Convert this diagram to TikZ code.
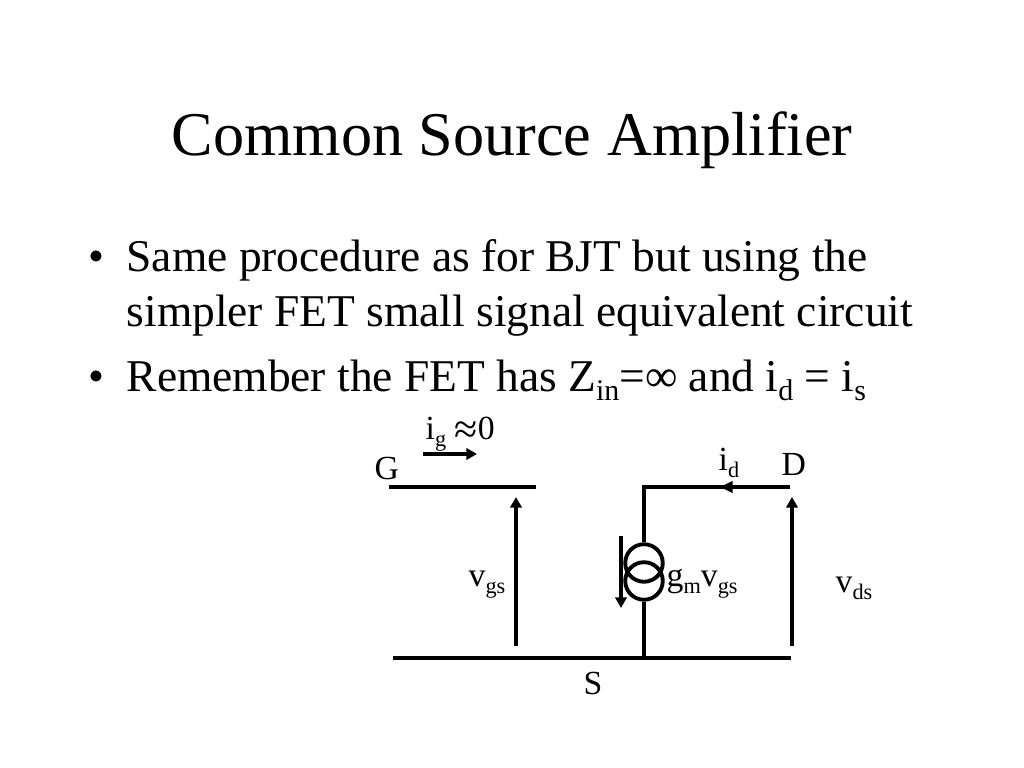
\documentclass[tikz,border=0pt]{standalone}
\usepackage{fontspec}
\usepackage{graphicx}
\setmainfont{Liberation Serif}
\usetikzlibrary{arrows.meta}
\newcommand{\lowtext}[1]{\raisebox{-0.42ex}{\scalebox{0.66}{#1}}}
\tikzset{
  titletext/.style = {inner sep=0pt, anchor=base, font=\fontsize{17.7}{20}\selectfont},
  bodytext/.style = {inner sep=0pt, anchor=base west, font=\fontsize{12.93}{15}\selectfont},
  lbl/.style = {inner sep=0pt, anchor=base west, font=\fontsize{9.6}{11}\selectfont},
  wire/.style = {line width=1.25pt},
  sense/.style = {line width=0.88pt, -{Triangle[length=3pt,width=3.2pt]}},
  source/.style = {draw, circle, line width=1.1pt, inner sep=0pt, minimum size=1.03pt*36.5*0.284}
}
\begin{document}
\begin{tikzpicture}
\useasboundingbox (0,0) rectangle (10.24,7.68);
\node[titletext] (title) at (5.12,6.12) {Common Source Amplifier};
\node[bodytext] (dotone) at (0.88,4.96) {\textbullet};
\node[bodytext] (lineone) at (1.26,4.96) {Same procedure as for BJT but using the};
\node[bodytext] (linetwo) at (1.26,4.41) {simpler FET small signal equivalent circuit};
\node[bodytext] (dottwo) at (0.88,3.76) {\textbullet};
\node[bodytext] (linethree) at (1.26,3.76) {Remember the FET has Z\lowtext{in}=∞ and i\lowtext{d} = i\lowtext{s}};
% terminals
\coordinate (gleft) at (3.89,2.81);
\coordinate (gright) at (5.36,2.81);
\coordinate (sleft) at (3.93,1.10);
\coordinate (sright) at (7.91,1.10);
\coordinate (sjoin) at (6.44,1.10);
\coordinate (dright) at (7.90,2.81);
\coordinate (dcorner) at (6.44,2.81);
\coordinate (dmark) at (7.20,2.81);
\draw[wire] (gleft) -- (gright);
\draw[wire] (sleft) -- (sright);
% controlled source
\node[source] (srctop) at (6.44,2.05) {};
\node[source] (srcbot) at (6.44,1.87) {};
\draw[wire] (dright) -- (dcorner) -- (srctop.north);
\draw[wire] (srcbot.south) -- (sjoin);
\draw[wire, -{Triangle[length=3.6pt,width=3.2pt]}] (dright) -- (dmark);
% voltage and current arrows
\coordinate (igfrom) at (4.23,3.14);
\coordinate (igto) at (4.77,3.14);
\coordinate (vgsfrom) at (5.16,1.22);
\coordinate (vgsto) at (5.16,2.71);
\coordinate (vdsfrom) at (7.92,1.22);
\coordinate (vdsto) at (7.92,2.71);
\coordinate (ifrom) at (6.21,2.32);
\coordinate (ito) at (6.21,1.60);
\draw[sense] (igfrom) -- (igto);
\draw[sense] (vgsfrom) -- (vgsto);
\draw[sense] (vdsfrom) -- (vdsto);
\draw[sense] (ifrom) -- (ito);
% labels
\node[lbl] (ig) at (4.25,3.28) {i\lowtext{g} \raisebox{-0.22ex}{\scalebox{1.25}{≈}}0};
\node[lbl] (G) at (3.74,2.88) {G};
\node[lbl] (id) at (7.18,2.97) {i\lowtext{d}};
\node[lbl] (D) at (7.81,2.92) {D};
\node[lbl] (vgs) at (4.68,1.81) {v\lowtext{gs}};
\node[lbl] (gmvgs) at (6.66,1.81) {g\lowtext{m}v\lowtext{gs}};
\node[lbl] (vds) at (8.35,1.75) {v\lowtext{ds}};
\node[lbl] (S) at (5.83,0.73) {S};
\end{tikzpicture}
\end{document}
